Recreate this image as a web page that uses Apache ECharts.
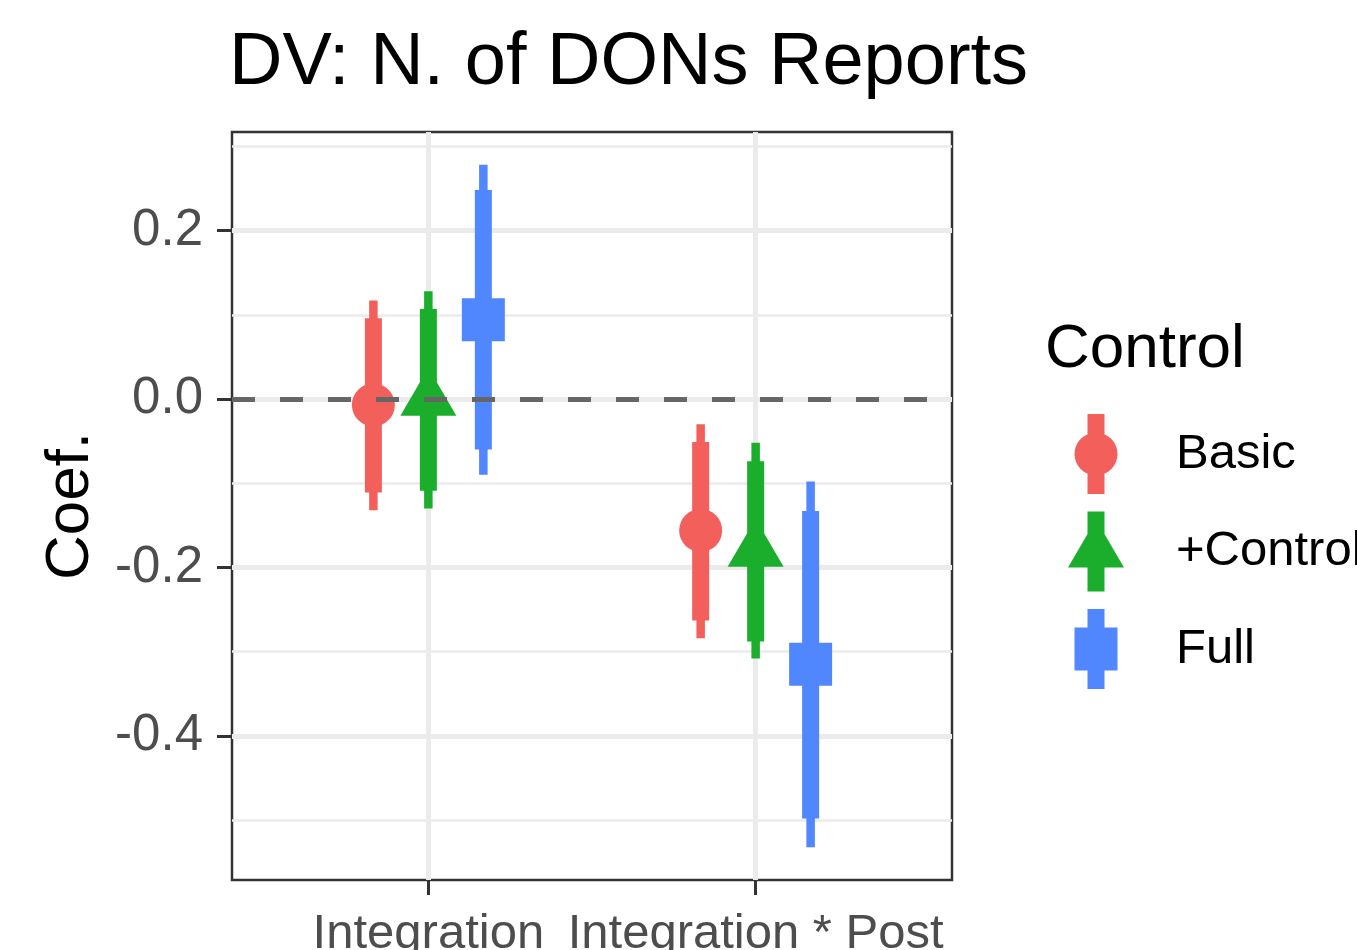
<!DOCTYPE html>
<html>
<head>
<meta charset="utf-8">
<title>DV: N. of DONs Reports</title>
<script src="https://cdn.jsdelivr.net/npm/echarts@6.0.0/dist/echarts.min.js"></script>
<style>
  html, body { margin: 0; padding: 0; background: #ffffff; }
  #chart { width: 1357px; height: 950px; }
</style>
</head>
<body>
<div id="chart"></div>
<script>
  // x categories and model variants (legend)
  var categories = ['Integration', 'Integration * Post'];
  var models = ['Basic', '+Control', 'Full'];
  var yMajorTicks = [-0.4, -0.2, 0.0, 0.2];
  var yMinorTicks = [-0.5, -0.3, -0.1, 0.1, 0.3];

  // point estimates per category
  var estBasic = [-0.007, -0.156];
  var estControl = [-0.001, -0.180];
  var estFull = [0.094, -0.315];

  // inner (thick) interval [lo, hi] per category
  var innerBasic = [[-0.111, 0.096], [-0.263, -0.051]];
  var innerControl = [[-0.109, 0.107], [-0.288, -0.074]];
  var innerFull = [[-0.060, 0.248], [-0.498, -0.133]];

  // outer (thin) interval [lo, hi] per category
  var outerBasic = [[-0.132, 0.117], [-0.284, -0.030]];
  var outerControl = [[-0.130, 0.128], [-0.308, -0.052]];
  var outerFull = [[-0.090, 0.278], [-0.532, -0.098]];

  var colors = ['#F3605C', '#1BAE2D', '#5086FE'];
  var dodge = [-0.168, 0, 0.168];
  var shapes = ['circle', 'triangle', 'square'];
  var font = '"Liberation Sans", Arial, Helvetica, sans-serif';

  function buildRows(est, inner, outer) {
    return categories.map(function (c, i) {
      return [i + 1, est[i], inner[i][0], inner[i][1], outer[i][0], outer[i][1]];
    });
  }

  function renderRange(params, api) {
    var x = api.value(0) + dodge[params.seriesIndex];
    var color = api.visual('color');
    var p = api.coord([x, api.value(1)]);
    var iLo = api.coord([x, api.value(2)]);
    var iHi = api.coord([x, api.value(3)]);
    var oLo = api.coord([x, api.value(4)]);
    var oHi = api.coord([x, api.value(5)]);
    var thin = 8.5, thick = 17;
    var children = [
      { type: 'rect', shape: { x: p[0] - thin / 2, y: oHi[1], width: thin, height: oLo[1] - oHi[1] }, style: { fill: color } },
      { type: 'rect', shape: { x: p[0] - thick / 2, y: iHi[1], width: thick, height: iLo[1] - iHi[1] }, style: { fill: color } }
    ];
    var shape = shapes[params.seriesIndex];
    if (shape === 'circle') {
      children.push({ type: 'circle', shape: { cx: p[0], cy: p[1], r: 21.5 }, style: { fill: color } });
    } else if (shape === 'triangle') {
      children.push({ type: 'polygon', shape: { points: [[p[0], p[1] - 32], [p[0] + 28, p[1] + 16], [p[0] - 28, p[1] + 16]] }, style: { fill: color } });
    } else {
      children.push({ type: 'rect', shape: { x: p[0] - 21.5, y: p[1] - 21.5, width: 43, height: 43 }, style: { fill: color } });
    }
    return { type: 'group', children: children };
  }

  var legendIcons = [
    'path://M13 0H30V80H13Z M0 40A21.5 21.5 0 1 1 43 40A21.5 21.5 0 1 1 0 40Z',
    'path://M19.5 0H36.5V80H19.5Z M28 8L56 56L0 56Z',
    'path://M13 0H30V80H13Z M0 18.5H43V61.5H0Z'
  ];

  var seriesRows = [
    buildRows(estBasic, innerBasic, outerBasic),
    buildRows(estControl, innerControl, outerControl),
    buildRows(estFull, innerFull, outerFull)
  ];

  var series = models.map(function (name, k) {
    var s = {
      name: name,
      type: 'custom',
      renderItem: renderRange,
      itemStyle: { color: colors[k] },
      encode: { x: 0, y: [1, 2, 3, 4, 5] },
      data: seriesRows[k],
      z: 3
    };
    if (k === models.length - 1) {
      // dashed reference line at zero, drawn over the ranges
      s.markLine = {
        silent: true,
        symbol: 'none',
        label: { show: false },
        lineStyle: { color: '#666666', width: 5, type: [23, 25] },
        data: [{ yAxis: 0 }],
        z: 10
      };
    }
    return s;
  });

  var chart = echarts.init(document.getElementById('chart'));
  chart.setOption({
    animation: false,
    backgroundColor: '#ffffff',
    title: [
      {
        text: 'DV: N. of DONs Reports',
        left: 229, top: 27, padding: 0,
        textStyle: { fontFamily: font, fontSize: 74, fontWeight: 'normal', color: '#000000' }
      },
      {
        text: 'Control',
        left: 1045, top: 319, padding: 0,
        textStyle: { fontFamily: font, fontSize: 62, fontWeight: 'normal', color: '#000000' }
      }
    ],
    legend: {
      orient: 'vertical',
      left: 1068, top: 414,
      padding: 0,
      itemWidth: 150, itemHeight: 80, itemGap: 17.5,
      symbolKeepAspect: true,
      selectedMode: false,
      textStyle: { fontFamily: font, fontSize: 49, color: '#000000' },
      data: models.map(function (m, k) { return { name: m, icon: legendIcons[k] }; })
    },
    grid: {
      left: 232, top: 132, width: 720, height: 748,
      show: true, backgroundColor: '#ffffff',
      borderColor: '#333333', borderWidth: 2.5,
      containLabel: false, outerBoundsMode: 'none'
    },
    xAxis: {
      type: 'value', min: 0.4, max: 2.6,
      axisLine: { show: false, onZero: false },
      axisTick: { show: true, length: 15, customValues: [1, 2], lineStyle: { color: '#333333', width: 3 } },
      axisLabel: {
        show: true, customValues: [1, 2], margin: 30,
        fontFamily: font, fontSize: 49, color: '#4D4D4D',
        formatter: function (v) { return categories[Math.round(v) - 1] || ''; }
      },
      splitLine: { show: true, lineStyle: { color: '#EBEBEB', width: 5 } }
    },
    yAxis: [
      {
        type: 'value', min: -0.571, max: 0.317,
        name: 'Coef.', nameLocation: 'middle', nameRotate: 90, nameGap: 130,
        nameTextStyle: { fontFamily: font, fontSize: 62, color: '#000000' },
        axisLine: { show: false, onZero: false },
        axisTick: { show: true, length: 15, customValues: yMajorTicks, lineStyle: { color: '#333333', width: 3 } },
        axisLabel: {
          show: true, customValues: yMajorTicks, margin: 29,
          fontFamily: font, fontSize: 51, color: '#4D4D4D',
          formatter: function (v) { return v.toFixed(1); }
        },
        splitLine: { show: true, lineStyle: { color: '#EBEBEB', width: 5 } }
      },
      {
        // minor grid lines only
        type: 'value', min: -0.571, max: 0.317, position: 'left',
        axisLine: { show: false, onZero: false },
        axisTick: { show: false, customValues: yMinorTicks },
        axisLabel: { show: false, customValues: yMinorTicks },
        splitLine: { show: true, lineStyle: { color: '#EBEBEB', width: 2.5 } }
      }
    ],
    series: series
  });
</script>
</body>
</html>
